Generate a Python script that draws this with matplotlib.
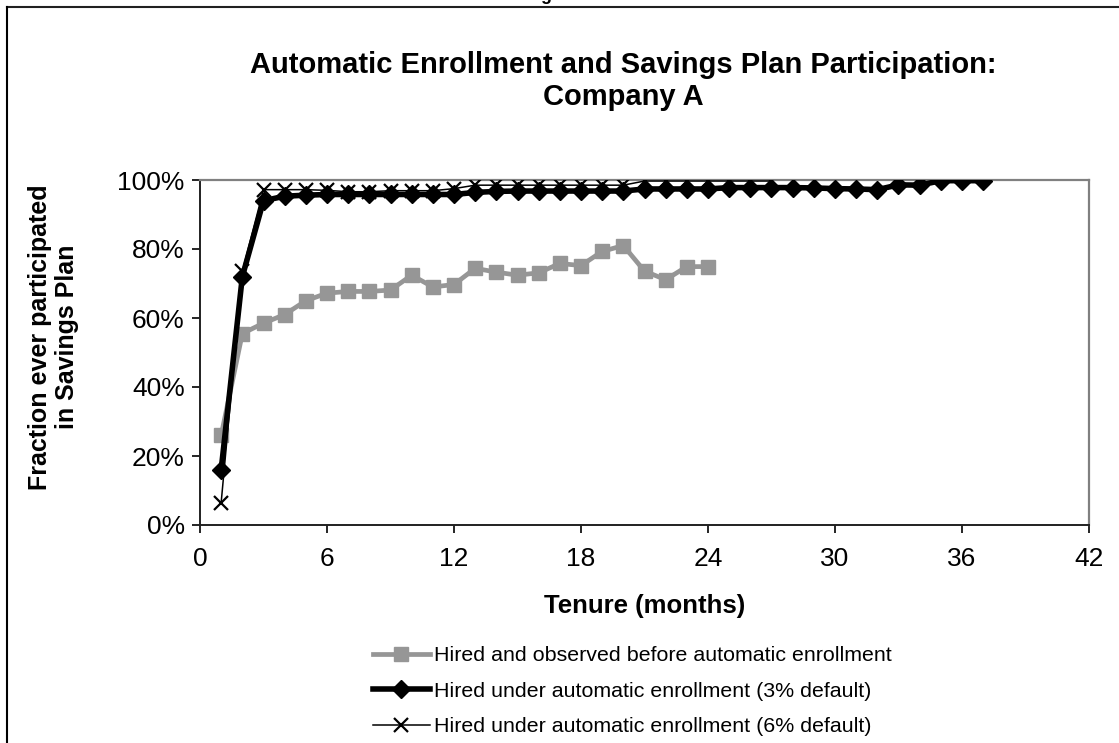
import matplotlib
matplotlib.use("Agg")
import matplotlib.pyplot as plt
import matplotlib.lines as mlines
from matplotlib.ticker import FuncFormatter

plt.rcParams["font.family"] = ["Liberation Sans", "DejaVu Sans"]

# participation rate by tenure month (fraction of employees ever participated)
months_before = list(range(1, 25))
before_auto = [0.26, 0.555, 0.585, 0.61, 0.65, 0.672, 0.677, 0.677, 0.681, 0.724,
               0.69, 0.697, 0.744, 0.733, 0.724, 0.731, 0.758, 0.752, 0.793, 0.81,
               0.736, 0.711, 0.749, 0.749]

months_3pct = list(range(1, 38))
auto_3pct = [0.16, 0.72, 0.94, 0.953, 0.956, 0.958, 0.958, 0.958, 0.958, 0.958,
             0.958, 0.958, 0.964, 0.967, 0.968, 0.968, 0.968, 0.968, 0.968, 0.968,
             0.974, 0.974, 0.974, 0.974, 0.978, 0.978, 0.978, 0.978, 0.977, 0.975,
             0.974, 0.972, 0.986, 0.985, 0.998, 0.998, 0.998]

months_6pct = list(range(1, 28))
auto_6pct = [0.065, 0.735, 0.972, 0.972, 0.972, 0.97, 0.966, 0.966, 0.969, 0.969,
             0.969, 0.975, 0.985, 0.985, 0.985, 0.985, 0.985, 0.985, 0.985, 0.985,
             0.997, 0.997, 0.997, 0.997, 0.997, 0.997, 0.997]

labels = ["Hired and observed before automatic enrollment",
          "Hired under automatic enrollment (3% default)",
          "Hired under automatic enrollment (6% default)"]

x_ticks = [0, 6, 12, 18, 24, 30, 36, 42]
y_ticks = [0, 0.2, 0.4, 0.6, 0.8, 1.0]

GRAY = "#969696"
W, H = 1119, 743

fig = plt.figure(figsize=(W / 100, H / 100), dpi=100)
ax = fig.add_axes([200 / W, 1 - 525 / H, 889 / W, 345 / H])

ax.plot(months_before, before_auto, color=GRAY, lw=3.4, marker="s", ms=9.5,
        mec=GRAY, mfc=GRAY, zorder=3, label=labels[0])
ax.plot(months_3pct, auto_3pct, color="black", lw=4.0, marker="D", ms=9,
        mec="black", mfc="black", zorder=4, label=labels[1])
ax.plot(months_6pct, auto_6pct, color="black", lw=1.1, marker="x", ms=10,
        mew=1.6, zorder=5, label=labels[2])

ax.set_xlim(0, 42)
ax.set_ylim(0, 1.0)
ax.set_xticks(x_ticks)
ax.set_yticks(y_ticks)
ax.yaxis.set_major_formatter(FuncFormatter(lambda v, _: f"{v:.0%}"))
ax.tick_params(direction="out", length=6, width=1.2, labelsize=19, color="black")
ax.tick_params(axis="y", pad=5)
ax.tick_params(axis="x", pad=10)
for side in ("top", "right"):
    ax.spines[side].set_color("#808080")
    ax.spines[side].set_linewidth(1.6)
for side in ("left", "bottom"):
    ax.spines[side].set_color("#202020")
    ax.spines[side].set_linewidth(1.4)
for sp in ax.spines.values():
    sp.set_zorder(2)

ax.set_xlabel("Tenure (months)", fontsize=18.5, fontweight="bold", va="center")
ax.xaxis.set_label_coords(0.5006, (525 - 606) / 345)
ax.set_ylabel("Fraction ever participated\nin Savings Plan", fontsize=18,
              fontweight="bold", va="center", linespacing=1.2)
ax.yaxis.set_label_coords((53.5 - 200) / 889, (525 - 337) / 345)

fig.text(623 / W, 1 - 81 / H,
         "Automatic Enrollment and Savings Plan Participation:\nCompany A",
         ha="center", va="center", fontsize=21, fontweight="bold",
         linespacing=1.22)

# outer chart frame (only the top and left edges fall inside the canvas)
fig.add_artist(mlines.Line2D([7 / W, 1], [1 - 7 / H, 1 - 7 / H],
                             transform=fig.transFigure, color="#202020", lw=1.5))
fig.add_artist(mlines.Line2D([7 / W, 7 / W], [0, 1 - 7 / H],
                             transform=fig.transFigure, color="black", lw=1.5))
fig.text(560 / W, 1.0, "Figure 1", ha="center", va="baseline",
         fontsize=13, fontweight="bold")

fig.legend(loc="upper left", bbox_to_anchor=(373 / W, 1 - 646 / H),
           frameon=False, fontsize=15.4, handlelength=2.65, handletextpad=0.22,
           labelspacing=0.78, borderpad=0, borderaxespad=0)

fig.savefig("out.png", dpi=100)
